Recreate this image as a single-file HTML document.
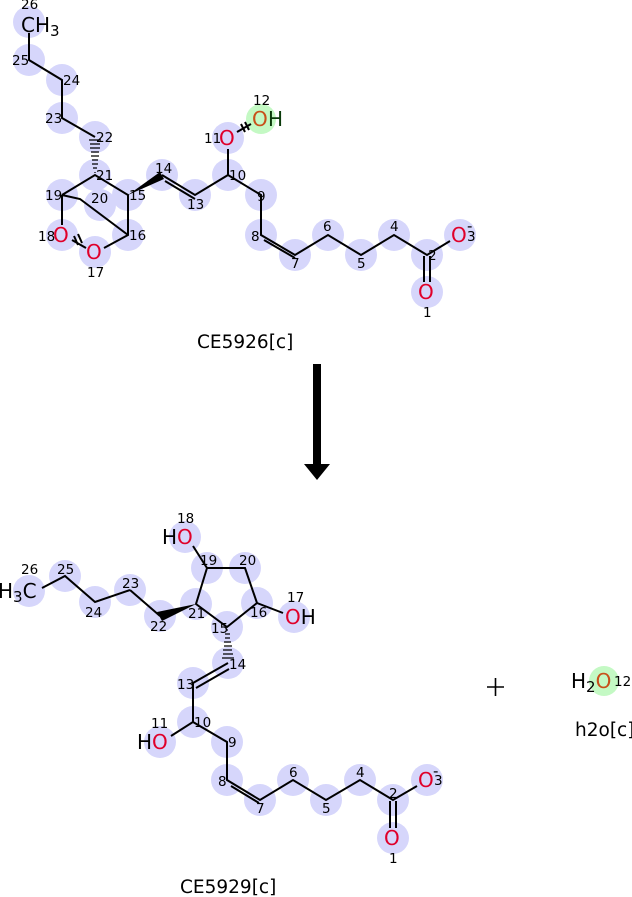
<!DOCTYPE html>
<html><head><meta charset="utf-8"><style>
html,body{margin:0;padding:0;background:#fff}
svg{display:block}
text{font-family:"DejaVu Sans","Liberation Sans",sans-serif}
.n{font-size:13.5px;fill:#000}
.a{font-size:20px}
.o{fill:#e0002a}
</style></head><body>
<svg width="632" height="897" viewBox="0 0 632 897" xmlns="http://www.w3.org/2000/svg">
<g fill="#d6d6fb">
<circle cx="29" cy="22" r="16"/><circle cx="29" cy="60" r="16"/><circle cx="62" cy="80" r="16"/>
<circle cx="62" cy="118" r="16"/><circle cx="95" cy="137" r="16"/><circle cx="95" cy="175" r="16"/>
<circle cx="62" cy="195" r="16"/><circle cx="100" cy="205" r="16"/><circle cx="128" cy="195" r="16"/>
<circle cx="128" cy="235" r="16"/><circle cx="95" cy="252" r="16"/><circle cx="62" cy="235" r="16"/>
<circle cx="162" cy="175" r="16"/><circle cx="195" cy="195" r="16"/><circle cx="228" cy="175" r="16"/>
<circle cx="228" cy="138" r="16"/><circle cx="261" cy="195" r="16"/><circle cx="261" cy="235" r="16"/>
<circle cx="295" cy="255" r="16"/><circle cx="328" cy="235" r="16"/><circle cx="361" cy="255" r="16"/>
<circle cx="394" cy="235" r="16"/><circle cx="427" cy="255" r="16"/><circle cx="460" cy="235" r="16"/>
<circle cx="427" cy="292" r="16"/>
<circle cx="185" cy="537" r="16"/><circle cx="207" cy="568" r="16"/><circle cx="245" cy="568" r="16"/>
<circle cx="257" cy="603" r="16"/><circle cx="294" cy="617" r="16"/><circle cx="227" cy="627" r="16"/>
<circle cx="196" cy="604" r="16"/><circle cx="160" cy="616" r="16"/><circle cx="130" cy="590" r="16"/>
<circle cx="95" cy="602" r="16"/><circle cx="65" cy="576" r="16"/><circle cx="29" cy="591" r="16"/>
<circle cx="228" cy="663" r="16"/><circle cx="193" cy="683" r="16"/><circle cx="193" cy="722" r="16"/>
<circle cx="160" cy="742" r="16"/><circle cx="227" cy="742" r="16"/><circle cx="227" cy="780" r="16"/>
<circle cx="260" cy="800" r="16"/><circle cx="293" cy="780" r="16"/><circle cx="326" cy="800" r="16"/>
<circle cx="360" cy="780" r="16"/><circle cx="393" cy="800" r="16"/><circle cx="427" cy="780" r="16"/>
<circle cx="393" cy="838" r="16"/>
</g>
<circle cx="261" cy="119" r="15" fill="#c4f9c4"/>
<circle cx="604" cy="681" r="15" fill="#c4f9c4"/>

<g stroke="#000" stroke-width="2" fill="none">
<path d="M29,33 L29,60 L62,80 L62,118 L95,137"/>
<path d="M62,195 L95,175 L128,195 L128,235 L104,248"/>
<path d="M62,195 L62,225 M62,195 L80,199 L128,235"/>
<path d="M72,240 L86,248"/>
<path d="M162,175 L195,195 L228,175 L228,149 M228,175 L261,195 L261,235 L295,255 L328,235 L361,255 L394,235 L427,255 L450,241"/>
<path d="M165,181 L195,199 M264,240 L295,258"/>
<path d="M424,256 L424,282 M430,256 L430,282"/>
<path d="M237,132 L251,124"/>
<path d="M193,546 L207,568 L245,568 L257,603 L283,613 M257,603 L227,627 L196,604 L207,568"/>
<path d="M130,590 L95,602 L65,576 L42,588 M160,616 L130,590"/>
<path d="M228,663 L193,683 L193,722 L171,736 M193,722 L227,742 L227,780 L260,800 L293,780 L326,800 L360,780 L393,800 L417,786"/>
<path d="M229,669 L196,688 M231,786 L259,803"/>
<path d="M390,801 L390,828 M396,801 L396,828"/>
</g>
<g stroke="#000" stroke-width="2">
<path d="M74,236 L78,245 M78,234 L82,243"/>
<path d="M241,124 L245,132 M245,122 L249,130"/>
</g>
<polygon points="128,195 160,172 164,179" fill="#000"/>
<polygon points="196,604 157,612 162,621" fill="#000"/>
<g stroke="#000" stroke-width="1.3">
<path d="M95,172 L95,173 M93,168 L97,168 M92,164 L98,164 M92,160 L98,160 M91,156 L99,156 M91,152 L99,152 M90,148 L100,148 M90,144 L100,144 M89,140 L101,140"/>
<path d="M227,630 L228,630 M225,634 L230,634 M225,638 L230,638 M224,642 L231,642 M224,646 L232,646 M223,650 L232,650 M223,654 L233,654 M222,658 L234,658"/>
</g>
<rect x="313" y="364" width="8" height="102" fill="#000"/>
<polygon points="304,464 330,464 317,480" fill="#000"/>
<path d="M487,687 L504,687 M495.5,678 L495.5,696" stroke="#000" stroke-width="1.6"/>

<text class="a" x="21" y="32">CH<tspan font-size="15" dy="4">3</tspan></text>
<text class="a o" x="53" y="242">O</text>
<text class="a o" x="86" y="259">O</text>
<text class="a o" x="219" y="145">O</text>
<text class="a" x="252" y="126" fill="#c8501a">O</text>
<text class="a" x="268" y="126" fill="#0a3a0a">H</text>
<text class="a o" x="451" y="242">O</text>
<text class="a o" x="418" y="299">O</text>
<g class="n">
<text x="21" y="9">26</text><text x="12" y="65">25</text><text x="63" y="85">24</text>
<text x="45" y="123">23</text><text x="96" y="142">22</text><text x="96" y="180">21</text>
<text x="45" y="200">19</text><text x="91" y="203">20</text><text x="129" y="200">15</text>
<text x="129" y="240">16</text><text x="87" y="277">17</text><text x="38" y="241">18</text>
<text x="155" y="173">14</text><text x="187" y="209">13</text><text x="229" y="180">10</text>
<text x="204" y="143">11</text><text x="253" y="105">12</text><text x="257" y="201">9</text>
<text x="251" y="241">8</text><text x="291" y="268">7</text><text x="323" y="231">6</text>
<text x="357" y="268">5</text><text x="390" y="231">4</text><text x="428" y="260">2</text>
<text x="467" y="241">3</text><text x="423" y="317">1</text>
</g>
<text x="467" y="231" font-size="15">-</text>

<text class="a" x="162" y="544">H<tspan class="o">O</tspan></text>
<text class="a" x="285" y="624"><tspan class="o">O</tspan>H</text>
<text class="a" x="-2" y="598">H<tspan font-size="15" dy="4">3</tspan><tspan dy="-4">C</tspan></text>
<text class="a" x="137" y="749">H<tspan class="o">O</tspan></text>
<text class="a o" x="418" y="787">O</text>
<text class="a o" x="384" y="845">O</text>
<g class="n">
<text x="177" y="523">18</text><text x="200" y="565">19</text><text x="239" y="565">20</text>
<text x="250" y="617">16</text><text x="287" y="602">17</text><text x="211" y="633">15</text>
<text x="188" y="618">21</text><text x="150" y="631">22</text><text x="122" y="588">23</text>
<text x="85" y="617">24</text><text x="57" y="574">25</text><text x="21" y="574">26</text>
<text x="229" y="669">14</text><text x="177" y="689">13</text><text x="194" y="727">10</text>
<text x="151" y="728">11</text><text x="228" y="747">9</text><text x="218" y="786">8</text>
<text x="256" y="813">7</text><text x="289" y="777">6</text><text x="322" y="813">5</text>
<text x="356" y="777">4</text><text x="389" y="798">2</text><text x="434" y="785">3</text>
<text x="389" y="863">1</text>
</g>
<text x="433" y="776" font-size="15">-</text>

<text class="a" x="571" y="688">H<tspan font-size="15" dy="4">2</tspan><tspan dy="-4" fill="#c8501a">O</tspan></text>
<text class="n" x="614" y="686">12</text>
<text x="575" y="736" font-size="18.5">h2o[c]</text>

<text x="197" y="348" font-size="18.5">CE5926[c]</text>
<text x="180" y="893" font-size="18.5">CE5929[c]</text>
</svg>
</body></html>
